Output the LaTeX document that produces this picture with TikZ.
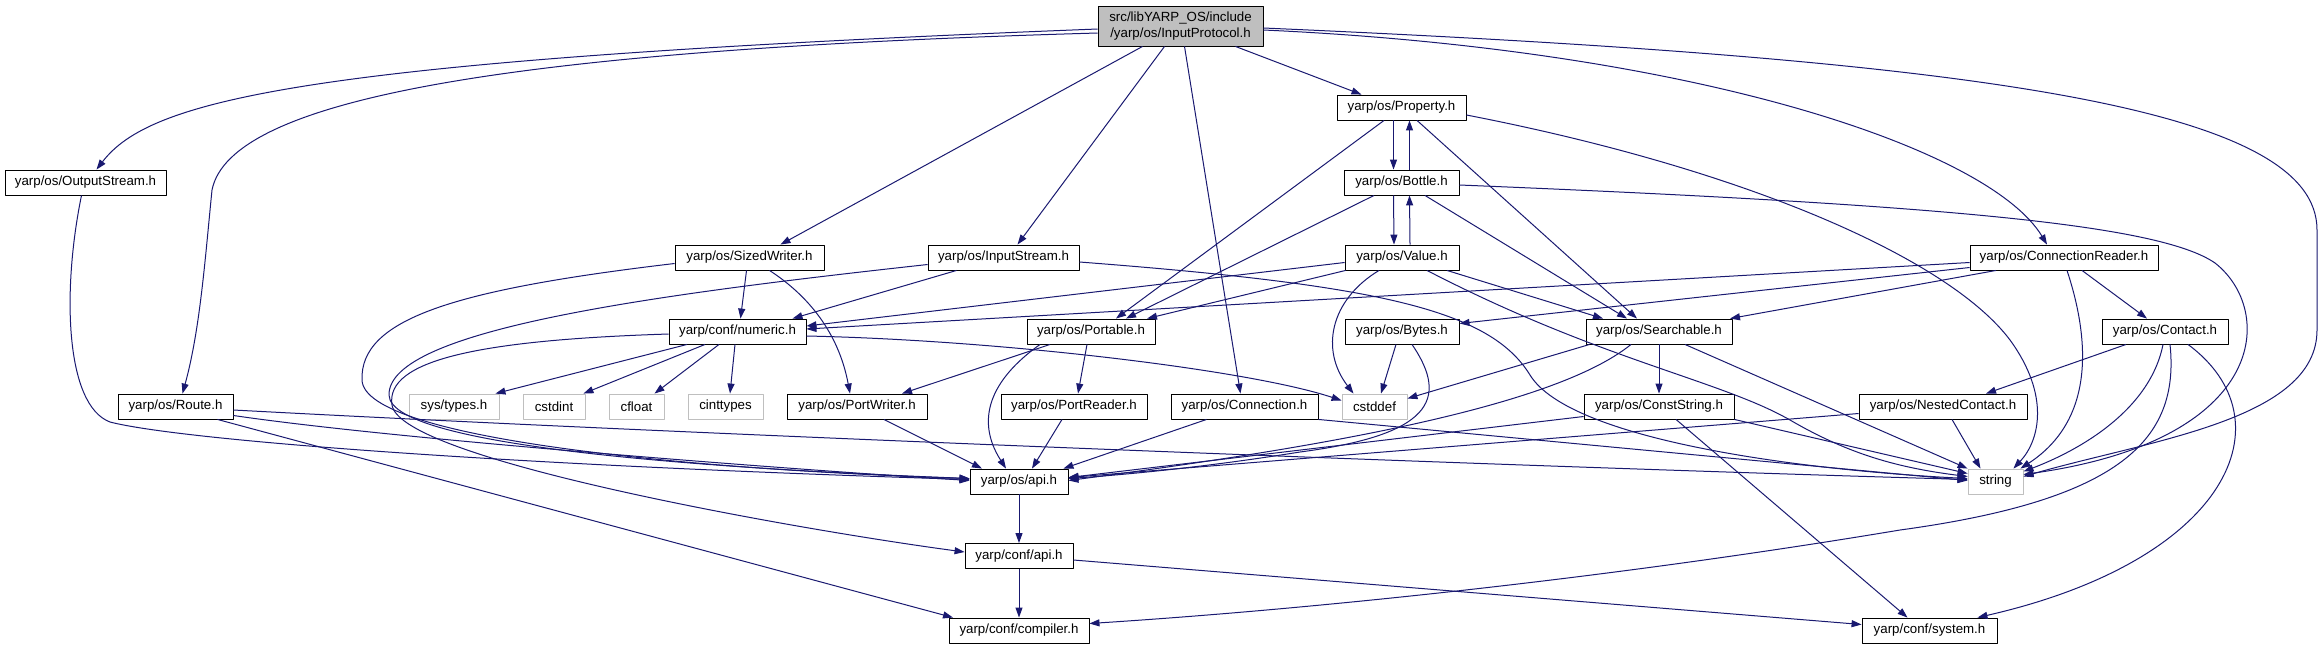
\documentclass[tikz,border=0pt]{standalone}
\usepackage{fontspec}
\setmainfont{Liberation Sans}
\usetikzlibrary{arrows.meta}

\begin{document}
\begin{tikzpicture}[x=1pt,y=-1pt,line join=round,
  hdrbox/.style={draw=black,fill=white,line width=0.9pt,minimum height=25pt,inner sep=0pt,font=\fontsize{13.3}{15.5}\selectfont},
  sysbox/.style={hdrbox,draw=boxgray},
  rootbox/.style={hdrbox,fill=rootgray,minimum height=40pt,align=center},
  incl/.style={draw=edgeblue,line width=1pt,-{Triangle[length=10pt,width=7pt]}}]
\definecolor{edgeblue}{RGB}{25,25,112}
\definecolor{boxgray}{RGB}{191,191,191}
\definecolor{rootgray}{RGB}{191,191,191}

\useasboundingbox (0,0) rectangle (2323,649);

\node[rootbox,minimum width=165pt] (root) at (1180.5,26) {src/libYARP\_OS/include\\/yarp/os/InputProtocol.h};

\node[hdrbox,minimum width=129pt] (prop) at (1401.5,107.5) {yarp/os/Property.h};

\node[hdrbox,minimum width=161pt] (outs) at (85.5,182.5) {yarp/os/OutputStream.h};
\node[hdrbox,minimum width=115pt] (bottle) at (1401.5,182.5) {yarp/os/Bottle.h};

\node[hdrbox,minimum width=149pt] (sizedw) at (749.5,257.5) {yarp/os/SizedWriter.h};
\node[hdrbox,minimum width=151pt] (instream) at (1003.5,257.5) {yarp/os/InputStream.h};
\node[hdrbox,minimum width=114pt] (value) at (1402,257.5) {yarp/os/Value.h};
\node[hdrbox,minimum width=188pt] (connrd) at (2064,257.5) {yarp/os/ConnectionReader.h};

\node[hdrbox,minimum width=137pt] (numeric) at (737.5,331.5) {yarp/conf/numeric.h};
\node[hdrbox,minimum width=128pt] (portable) at (1091,331.5) {yarp/os/Portable.h};
\node[hdrbox,minimum width=114pt] (bytes) at (1402,331.5) {yarp/os/Bytes.h};
\node[hdrbox,minimum width=146pt] (search) at (1659,331.5) {yarp/os/Searchable.h};
\node[hdrbox,minimum width=126pt] (contact) at (2165,331.5) {yarp/os/Contact.h};

\node[hdrbox,minimum width=115pt] (route) at (175.5,406.5) {yarp/os/Route.h};
\node[sysbox,minimum width=90pt] (systypes) at (454,406.5) {sys/types.h};
\node[sysbox,minimum width=62pt] (cstdint) at (554,406.5) {cstdint};
\node[sysbox,minimum width=55pt] (cfloat) at (636.5,406.5) {cfloat};
\node[sysbox,minimum width=75pt] (cinttypes) at (725.5,406.5) {cinttypes};
\node[hdrbox,minimum width=140pt] (portw) at (857,406.5) {yarp/os/PortWriter.h};
\node[hdrbox,minimum width=146pt] (portr) at (1074,406.5) {yarp/os/PortReader.h};
\node[hdrbox,minimum width=147pt] (conn) at (1244.5,406.5) {yarp/os/Connection.h};
\node[sysbox,minimum width=65pt] (cstddef) at (1374.5,406.5) {cstddef};
\node[hdrbox,minimum width=150pt] (cstr) at (1659,406.5) {yarp/os/ConstString.h};
\node[hdrbox,minimum width=168pt] (nested) at (1943,406.5) {yarp/os/NestedContact.h};

\node[hdrbox,minimum width=98pt] (osapi) at (1019,481.5) {yarp/os/api.h};
\node[sysbox,minimum width=55pt] (strg) at (1995.5,481.5) {string};

\node[hdrbox,minimum width=108pt] (confapi) at (1019,556) {yarp/conf/api.h};

\node[hdrbox,minimum width=140pt] (compiler) at (1019,630.5) {yarp/conf/compiler.h};
\node[hdrbox,minimum width=135pt] (system) at (1929.5,630.5) {yarp/conf/system.h};

% root
\draw[incl] ([yshift=-3pt]root.west) .. controls (300,60) and (150,100) .. ([xshift=11pt]outs.north);
\draw[incl] ([yshift=-7pt]root.west) .. controls (500,50) and (230,100) .. (212,190) .. controls (205,260) and (200,330) .. ([xshift=7pt]route.north);
\draw[incl] ([xshift=-38pt]root.south) -- ([xshift=31pt]sizedw.north);
\draw[incl] ([xshift=-16pt]root.south) -- ([xshift=14pt]instream.north);
\draw[incl] ([xshift=4pt]root.south) -- ([xshift=-4pt]conn.north);
\draw[incl] ([xshift=55pt]root.south) -- ([xshift=-40pt]prop.north);
\draw[incl] ([yshift=-4pt]root.east) .. controls (1700,50) and (1990,150) .. ([xshift=-17pt]connrd.north);
\draw[incl] ([yshift=-2pt]root.east) .. controls (2000,60) and (2317,110) .. (2317,230) -- (2317,330) .. controls (2317,420) and (2150,440) .. ([yshift=5pt]strg.east);

% left column
\draw[incl] ([xshift=-4pt]outs.south) .. controls (62,290) and (65,405) .. (110,422) .. controls (180,440) and (500,465) .. ([yshift=2pt]osapi.west);
\draw[incl] ([yshift=-3.5pt]route.east) .. controls (700,435) and (1500,466) .. ([yshift=2pt]strg.west);
\draw[incl] ([yshift=-9pt]route.east) .. controls (400,440) and (800,470) .. ([yshift=1pt]osapi.west);
\draw[incl] ([xshift=42pt]route.south) -- ([xshift=-66pt]compiler.north);

% sized writer, input stream
\draw[incl] ([xshift=-3pt]sizedw.south) -- ([xshift=3pt]numeric.north);
\draw[incl] ([xshift=20pt]sizedw.south) .. controls (815,300) and (840,340) .. ([xshift=-7pt]portw.north);
\draw[incl] ([yshift=-6pt]sizedw.west) .. controls (450,290) and (360,320) .. (362,380) .. controls (364,440) and (700,470) .. ([yshift=3pt]osapi.west);
\draw[incl] ([xshift=-47pt]instream.south) -- ([xshift=55pt]numeric.north);
\draw[incl] ([yshift=-7pt]instream.west) .. controls (650,295) and (388,330) .. (389,395) .. controls (390,450) and (750,470) .. ([yshift=3pt]osapi.west);
\draw[incl] ([yshift=-4.5pt]instream.east) .. controls (1380,285) and (1490,310) .. (1530,375) .. controls (1570,440) and (1800,470) .. ([yshift=3pt]strg.west);

% property, bottle, value
\draw[incl] ([xshift=-8pt]prop.south) -- ([xshift=-8pt]bottle.north);
\draw[incl] ([xshift=8pt]bottle.north) -- ([xshift=8pt]prop.south);
\draw[incl] ([xshift=-17.5pt]prop.south) -- ([xshift=25pt]portable.north);
\draw[incl] ([xshift=15.5pt]prop.south) -- ([xshift=-22pt]search.north);
\draw[incl] ([yshift=-7.5pt]prop.east) .. controls (1750,170) and (1950,260) .. (2010,340) .. controls (2050,395) and (2040,440) .. ([xshift=-10pt]strg.north east);
\draw[incl] ([xshift=-8pt]bottle.south) -- ([xshift=-8pt]value.north);
\draw[incl] ([xshift=8pt]value.north) -- ([xshift=8pt]bottle.south);
\draw[incl] ([xshift=-27.5pt]bottle.south) -- ([xshift=35pt]portable.north);
\draw[incl] ([xshift=23.5pt]bottle.south) -- ([xshift=-32pt]search.north);
\draw[incl] ([yshift=-2.5pt]bottle.east) .. controls (1950,205) and (2160,225) .. (2215,263) .. controls (2275,310) and (2270,440) .. ([yshift=7pt]strg.east);
\draw[incl] ([yshift=-5pt]value.west) -- ([yshift=5.5pt]numeric.east);
\draw[incl] ([xshift=1pt]value.south west) -- ([xshift=56pt]portable.north);
\draw[incl] ([xshift=-23pt]value.south) .. controls (1330,300) and (1320,350) .. ([xshift=-21pt]cstddef.north);
\draw[incl] ([xshift=45pt]value.south) -- ([xshift=-56pt]search.north);
\draw[incl] ([xshift=25pt]value.south) .. controls (1600,360) and (1720,380) .. (1790,420) .. controls (1850,455) and (1900,468) .. ([yshift=5pt]strg.west);

% connection reader
\draw[incl] ([yshift=-5pt]connrd.west) -- ([yshift=2.5pt]numeric.east);
\draw[incl] ([yshift=-10pt]connrd.west) -- ([yshift=8pt]bytes.east);
\draw[incl] ([xshift=-68pt]connrd.south) -- ([xshift=71pt]search.north);
\draw[incl] ([xshift=18pt]connrd.south) -- ([xshift=-18pt]contact.north);
\draw[incl] ([xshift=3pt]connrd.south) .. controls (2090,340) and (2095,420) .. ([xshift=-3pt]strg.north east);

% fourth row
\draw[incl] ([xshift=-50.5pt]numeric.south) -- ([xshift=-4pt]systypes.north east);
\draw[incl] ([xshift=-32.5pt]numeric.south) -- ([xshift=-2pt]cstdint.north east);
\draw[incl] ([xshift=-18.5pt]numeric.south) -- ([xshift=18pt]cfloat.north);
\draw[incl] ([xshift=-2.5pt]numeric.south) -- ([xshift=4.5pt]cinttypes.north);
\draw[incl] ([yshift=-4.5pt]numeric.east) .. controls (1000,340) and (1250,370) .. ([yshift=6pt]cstddef.west);
\draw[incl] ([yshift=-2.5pt]numeric.west) .. controls (480,340) and (385,360) .. (392,405) .. controls (400,460) and (800,530) .. ([yshift=4pt]confapi.west);
\draw[incl] ([xshift=-41pt]portable.south) -- ([xshift=45pt]portw.north);
\draw[incl] ([xshift=-4pt]portable.south) -- ([xshift=4pt]portr.north);
\draw[incl] ([xshift=-51pt]portable.south) .. controls (990,380) and (975,420) .. ([xshift=-13pt]osapi.north);
\draw[incl] ([xshift=-6pt]bytes.south) -- ([xshift=6.5pt]cstddef.north);
\draw[incl] ([xshift=10pt]bytes.south) .. controls (1450,400) and (1430,435) .. (1300,452) .. controls (1200,468) and (1120,475) .. ([yshift=3pt]osapi.east);
\draw[incl] ([xshift=4pt]search.south west) -- ([yshift=8pt]cstddef.east);
\draw[incl] ([xshift=-28pt]search.south) .. controls (1550,410) and (1300,450) .. ([yshift=1pt]osapi.east);
\draw[incl] (search) -- (cstr);
\draw[incl] ([xshift=26pt]search.south) -- (strg.north west);
\draw[incl] ([xshift=-39pt]contact.south) -- ([xshift=43pt]nested.north);
\draw[incl] ([xshift=-2pt]contact.south) .. controls (2150,410) and (2080,450) .. ([yshift=10pt]strg.east);
\draw[incl] ([xshift=5pt]contact.south) .. controls (2180,440) and (2120,500) .. (1900,530) .. controls (1600,580) and (1300,610) .. ([yshift=7pt]compiler.east);
\draw[incl] ([xshift=23pt]contact.south) .. controls (2290,420) and (2230,560) .. ([xshift=-20pt]system.north east);

% fifth row
\draw[incl] ([xshift=27pt]portw.south) -- ([xshift=-37pt]osapi.north);
\draw[incl] ([xshift=-12pt]portr.south) -- ([xshift=13pt]osapi.north);
\draw[incl] ([xshift=-38pt]conn.south) -- ([xshift=-5pt]osapi.north east);
\draw[incl] (conn.south east) -- ([yshift=1pt]strg.west);
\draw[incl] ([yshift=-10pt]cstr.west) -- ([yshift=4pt]osapi.east);
\draw[incl] (cstr.south east) -- ([yshift=8pt]strg.west);
\draw[incl] ([xshift=17pt]cstr.south) -- ([xshift=-22pt]system.north);
\draw[incl] ([xshift=9pt]nested.south) -- ([xshift=-15pt]strg.north);
\draw[incl] ([yshift=-7pt]nested.west) -- ([yshift=4pt]osapi.east);

% api chain
\draw[incl] (osapi) -- (confapi);
\draw[incl] (confapi) -- (compiler);
\draw[incl] ([yshift=-4pt]confapi.east) -- ([yshift=6pt]system.west);
\end{tikzpicture}
\end{document}
